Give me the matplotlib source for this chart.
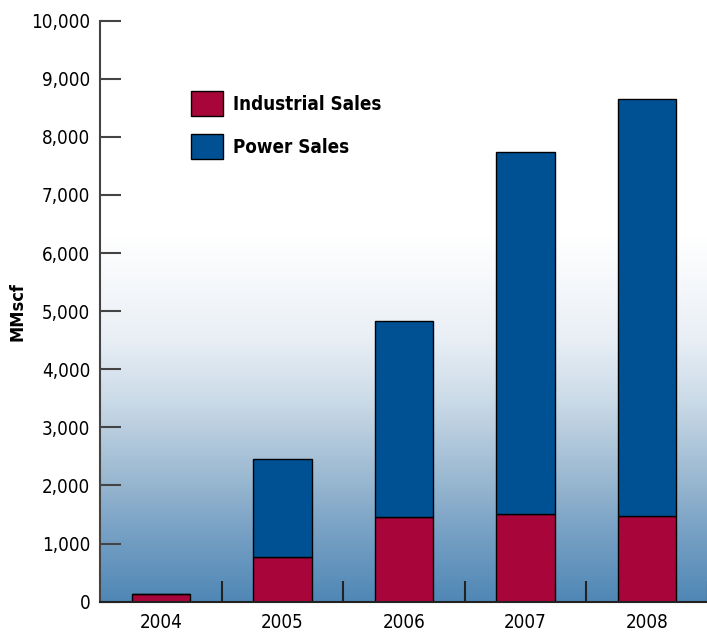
import numpy as np
import matplotlib.pyplot as plt
from matplotlib.colors import LinearSegmentedColormap
from matplotlib.patches import Patch

years = ['2004', '2005', '2006', '2007', '2008']
industrial = [130, 775, 1465, 1510, 1480]
power = [0, 1675, 3370, 6230, 7180]

red = '#a8053a'
blue = '#005194'

plt.rcParams['font.family'] = ['DejaVu Sans']
plt.rcParams['font.stretch'] = 'condensed'

fig = plt.figure(figsize=(7.07, 6.32), dpi=100)
ax = fig.add_axes([0.1414, 0.048, 0.86, 0.9193])

# background gradient: white at the top fading to steel blue at the baseline
bg = LinearSegmentedColormap.from_list('bg', [
    (0.0, (0.31, 0.53, 0.71)),
    (0.12, (0.47, 0.63, 0.77)),
    (0.23, (0.63, 0.74, 0.83)),
    (0.35, (0.80, 0.86, 0.91)),
    (0.46, (0.92, 0.94, 0.965)),
    (0.63, (1.0, 1.0, 1.0)),
    (1.0, (1.0, 1.0, 1.0)),
])
grad = np.linspace(0, 1, 256).reshape(-1, 1)
ax.imshow(grad, cmap=bg, origin='lower', aspect='auto',
          extent=[-0.5, 4.5, 0, 10000], zorder=0)

x = np.arange(len(years))
ax.bar(x, industrial, width=0.48, color=red, edgecolor='black', linewidth=1, zorder=2)
ax.bar(x, power, width=0.48, bottom=industrial, color=blue, edgecolor='black',
       linewidth=1, zorder=2)

ax.set_xlim(-0.5, 4.5)
ax.set_ylim(0, 10000)

ax.set_yticks(np.arange(0, 10001, 1000))
ax.set_yticklabels([f'{v:,}' for v in range(0, 10001, 1000)])
ax.tick_params(axis='y', direction='in', length=15, width=1.5, color='#444444',
               labelsize=13.5, pad=7)

ax.set_xticks(x)
ax.set_xticklabels(years)
ax.tick_params(axis='x', which='major', length=0, labelsize=13.5, pad=8)
ax.set_xticks(np.arange(0.5, 4.6, 1), minor=True)
ax.tick_params(axis='x', which='minor', direction='in', length=15, width=1.5,
               color='#222222')

for side in ['top', 'right']:
    ax.spines[side].set_visible(False)
ax.spines['left'].set_color('#444444')
ax.spines['left'].set_linewidth(1.5)
ax.spines['bottom'].set_color('#222222')
ax.spines['bottom'].set_linewidth(1.5)

ax.set_ylabel('MMscf', fontsize=13, fontweight='bold', labelpad=3)

handles = [Patch(facecolor=red, edgecolor='black', linewidth=1, label='Industrial Sales'),
           Patch(facecolor=blue, edgecolor='black', linewidth=1, label='Power Sales')]
leg = ax.legend(handles=handles, loc='upper left', bbox_to_anchor=(0.15, 0.879),
                frameon=False, borderpad=0, borderaxespad=0, handlelength=1.7,
                handleheight=1.7, handletextpad=0.55, labelspacing=0.94,
                prop={'size': 13.5, 'weight': 'bold', 'stretch': 'condensed'})

fig.savefig('out.png', dpi=100)
